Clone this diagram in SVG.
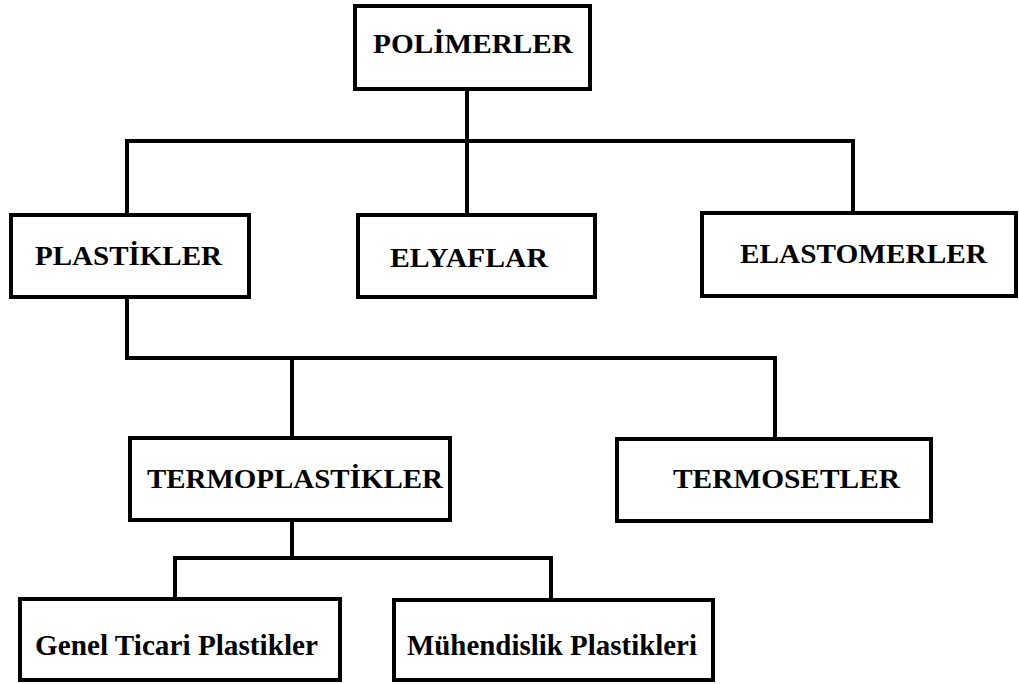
<svg xmlns="http://www.w3.org/2000/svg" width="1019" height="684" viewBox="0 0 1019 684">
<style>
.box{fill:#fff;stroke:#000;stroke-width:4}
.lbl{font-family:"Liberation Serif","Times New Roman",serif;font-weight:bold;font-size:28px;fill:#000;text-anchor:middle}
.sm{font-size:29px}
.con{fill:none;stroke:#000;stroke-width:4;stroke-linecap:square}
</style>
<rect width="1019" height="684" fill="#fff"/>
<g id="connectors">
<path class="con" d="M467 89V141M127 141H853M127 141V215M467 141V215M853 141V213"/>
<path class="con" d="M127 297V358H775M292 358V438M775 358V439"/>
<path class="con" d="M292 520V558M175 558H551M175 558V599M551 558V600"/>
</g>
<g id="polimerler"><rect class="box" x="355" y="6" width="235" height="83"/><text class="lbl" x="473" y="53" textLength="200" lengthAdjust="spacingAndGlyphs">POLİMERLER</text></g>
<g id="plastikler"><rect class="box" x="11" y="215" width="238" height="82"/><text class="lbl" x="128.5" y="265" textLength="187" lengthAdjust="spacingAndGlyphs">PLASTİKLER</text></g>
<g id="elyaflar"><rect class="box" x="358" y="215" width="237" height="82"/><text class="lbl" x="469" y="267" textLength="158" lengthAdjust="spacingAndGlyphs">ELYAFLAR</text></g>
<g id="elastomerler"><rect class="box" x="702" y="213" width="314" height="83"/><text class="lbl" x="863.5" y="263" textLength="247" lengthAdjust="spacingAndGlyphs">ELASTOMERLER</text></g>
<g id="termoplastikler"><rect class="box" x="130" y="438" width="320" height="82"/><text class="lbl" x="295" y="488" textLength="296" lengthAdjust="spacingAndGlyphs">TERMOPLASTİKLER</text></g>
<g id="termosetler"><rect class="box" x="617" y="439" width="314" height="82"/><text class="lbl" x="786.5" y="488" textLength="227" lengthAdjust="spacingAndGlyphs">TERMOSETLER</text></g>
<g id="genel"><rect class="box" x="20" y="599" width="320" height="81"/><text class="lbl sm" x="176.5" y="655" textLength="283" lengthAdjust="spacingAndGlyphs">Genel Ticari Plastikler</text></g>
<g id="muhendislik"><rect class="box" x="394" y="600" width="319" height="80"/><text class="lbl sm" x="552" y="655" textLength="290" lengthAdjust="spacingAndGlyphs">Mühendislik Plastikleri</text></g>
</svg>
